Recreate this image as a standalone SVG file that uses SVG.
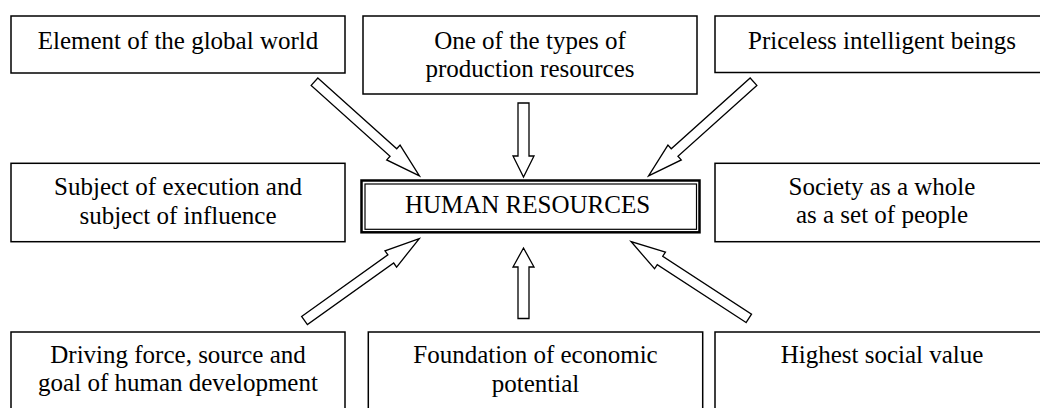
<svg xmlns="http://www.w3.org/2000/svg" width="1040" height="408" viewBox="0 0 1040 408" font-family="Liberation Serif, Times New Roman, serif">
  <style>
    .box { fill: #ffffff; stroke: #000000; stroke-width: 1.5; }
    .lbl { font-size: 25px; fill: #000000; text-anchor: middle; }
    .arrow { fill: #ffffff; stroke: #000000; stroke-width: 1.3; stroke-linejoin: miter; }
  </style>
  <rect x="0" y="0" width="1040" height="408" fill="#ffffff"/>

  <!-- surrounding concept boxes -->
  <g id="node-global-world">
    <rect class="box" x="11" y="16" width="334" height="57"/>
    <text class="lbl" x="178" y="49">Element of the global world</text>
  </g>
  <g id="node-production-resources">
    <rect class="box" x="363" y="16" width="334" height="78"/>
    <text class="lbl" x="530" y="48.5">One of the types of</text>
    <text class="lbl" x="530" y="77">production resources</text>
  </g>
  <g id="node-intelligent-beings">
    <rect class="box" x="715" y="16" width="334" height="56.5"/>
    <text class="lbl" x="882" y="48.5">Priceless intelligent beings</text>
  </g>
  <g id="node-execution-influence">
    <rect class="box" x="11" y="163.3" width="334" height="78.4"/>
    <text class="lbl" x="178" y="195">Subject of execution and</text>
    <text class="lbl" x="178" y="223.5">subject of influence</text>
  </g>
  <g id="node-society">
    <rect class="box" x="715" y="163.3" width="334" height="78.4"/>
    <text class="lbl" x="882" y="194.5">Society as a whole</text>
    <text class="lbl" x="882" y="223">as a set of people</text>
  </g>
  <g id="node-driving-force">
    <rect class="box" x="11" y="332" width="334" height="100"/>
    <text class="lbl" x="178" y="363">Driving force, source and</text>
    <text class="lbl" x="178" y="391">goal of human development</text>
  </g>
  <g id="node-economic-potential">
    <rect class="box" x="368.3" y="332" width="334.4" height="100"/>
    <text class="lbl" x="535.5" y="363">Foundation of economic</text>
    <text class="lbl" x="535.5" y="391.5">potential</text>
  </g>
  <g id="node-social-value">
    <rect class="box" x="715" y="332" width="334" height="100"/>
    <text class="lbl" x="882" y="363">Highest social value</text>
  </g>

  <!-- central concept with double frame -->
  <g id="node-human-resources">
    <rect x="361.5" y="180.5" width="338" height="51.8" fill="#ffffff" stroke="#000000" stroke-width="2.5"/>
    <rect x="365" y="184" width="331.5" height="45.3" fill="none" stroke="#000000" stroke-width="1.2"/>
    <text class="lbl" x="527.5" y="212.5">HUMAN RESOURCES</text>
  </g>

  <!-- hollow block arrows pointing at the central box -->
  <g id="connectors">
    <polygon class="arrow" transform="translate(314.5 81.7) rotate(41.9)" points="0,-5 106,-5 106,-10 141,0 106,10 106,5 0,5"/>
    <polygon class="arrow" transform="translate(753.5 81.7) rotate(138.1)" points="0,-5 106,-5 106,-10 141,0 106,10 106,5 0,5"/>
    <polygon class="arrow" transform="translate(523.5 103) rotate(90)" points="0,-5.5 53,-5.5 53,-10.5 74,0 53,10.5 53,5.5 0,5.5"/>
    <polygon class="arrow" transform="translate(304.5 320.5) rotate(-35.5)" points="0,-5 106,-5 106,-10 141,0 106,10 106,5 0,5"/>
    <polygon class="arrow" transform="translate(748.8 318.3) rotate(-146.9)" points="0,-5 106,-5 106,-10 140.6,0 106,10 106,5 0,5"/>
    <polygon class="arrow" transform="translate(523.5 318.5) rotate(-90)" points="0,-5.5 51.5,-5.5 51.5,-10.5 70.5,0 51.5,10.5 51.5,5.5 0,5.5"/>
  </g>
</svg>
